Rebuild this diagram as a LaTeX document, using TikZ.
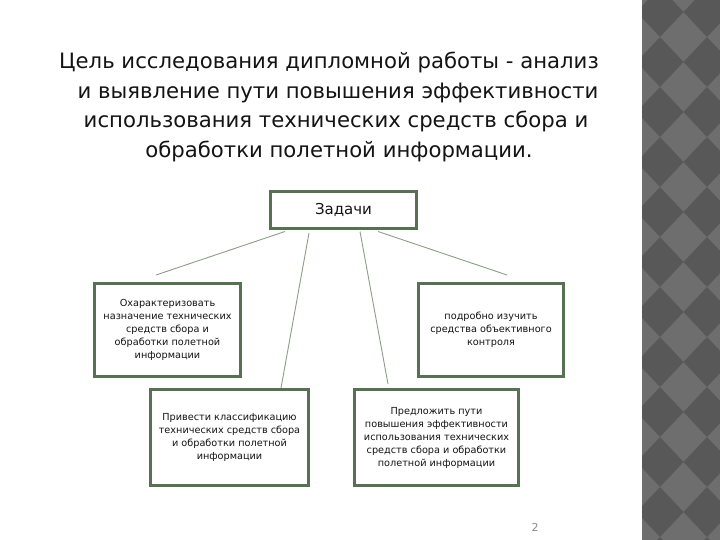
\documentclass[tikz,border=0pt]{standalone}
\usepackage{fontspec}
\setmainfont{DejaVu Sans}
\definecolor{boxc}{RGB}{88,113,84}
\definecolor{linec}{RGB}{140,158,136}
\definecolor{txt}{RGB}{20,20,20}
\definecolor{stripl}{RGB}{110,110,110}
\definecolor{stripd}{RGB}{88,88,88}
\definecolor{pgnum}{RGB}{140,140,140}
\tikzset{
  taskbox/.style={draw=boxc, line width=3pt, fill=white, align=center, text=txt, inner sep=2pt,
    font=\fontsize{9.7}{13}\selectfont},
  conn/.style={draw=linec, line width=0.9pt},
  titleline/.style={anchor=base, text=txt, inner sep=0pt, font=\fontsize{21.2}{29}\selectfont}
}
\begin{document}
\begin{tikzpicture}[x=1pt,y=-1pt]
\useasboundingbox (0,0) rectangle (720,540);
\fill[white] (0,0) rectangle (720,540);
% decorative strip
\begin{scope}
\clip (642,0) rectangle (720,540);
\fill[stripl] (642,0) rectangle (720,540);
\foreach \i in {-1,...,2}{
  \foreach \j in {-1,...,11}{
    \pgfmathsetmacro{\cx}{660+47*\i}
    \pgfmathsetmacro{\cy}{12+50*\j}
    \fill[stripd] (\cx-23.5,\cy) -- (\cx,\cy-25) -- (\cx+23.5,\cy) -- (\cx,\cy+25) -- cycle;
  }
}
\end{scope}
% title
\node[titleline] (t1) at (329,68.5) {Цель исследования дипломной работы - анализ};
\node[titleline] (t2) at (338,98.5) {и выявление пути повышения эффективности};
\node[titleline] (t3) at (336,128) {использования технических средств сбора и};
\node[titleline] (t4) at (339,157.5) {обработки полетной информации.};
% boxes
\node[taskbox, minimum width=146pt, minimum height=37pt, font=\fontsize{15}{18}\selectfont] (z) at (343.5,210) {Задачи};
\node[taskbox, minimum width=146pt, minimum height=93pt] (b1) at (167.5,330)
  {Охарактеризовать\\назначение технических\\средств сбора и\\обработки полетной\\информации};
\node[taskbox, minimum width=145pt, minimum height=93pt] (b2) at (491,330)
  {подробно изучить\\средства объективного\\контроля};
\node[taskbox, minimum width=158pt, minimum height=96pt] (b3) at (229.5,437.5)
  {Привести классификацию\\технических средств сбора\\и обработки полетной\\информации};
\node[taskbox, minimum width=164pt, minimum height=96pt] (b4) at (436.5,437.5)
  {Предложить пути\\повышения эффективности\\использования технических\\средств сбора и обработки\\полетной информации};
% connectors
\coordinate (s1) at (285,231.5);
\coordinate (s2) at (309,233);
\coordinate (s3) at (360,231.5);
\coordinate (s4) at (378,231.5);
\coordinate (e1) at (156,275);
\coordinate (e4) at (507,275);
\coordinate (e3) at (388,384);
\draw[conn] (s1) -- (e1);
\draw[conn] (s2) -- (b3.north -| 281,0);
\draw[conn] (s3) -- (e3);
\draw[conn] (s4) -- (e4);
% page number
\node[text=pgnum, font=\fontsize{11}{13}\selectfont] (pn) at (535,527) {2};
\end{tikzpicture}
\end{document}
